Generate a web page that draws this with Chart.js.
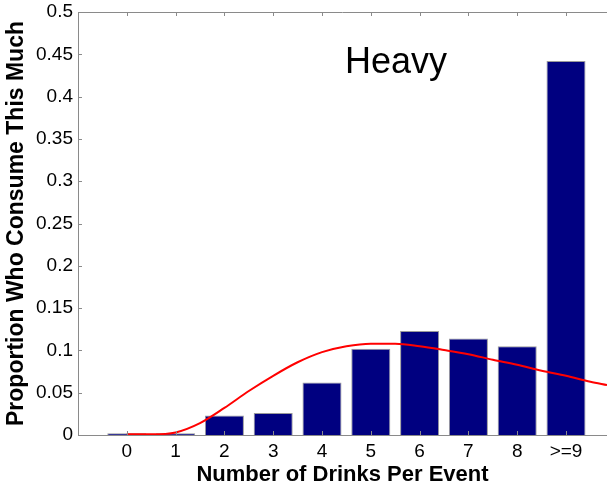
<!DOCTYPE html>
<html>
<head>
<meta charset="utf-8">
<script src="https://cdn.jsdelivr.net/npm/chart.js@4.4.0/dist/chart.umd.min.js"></script>
<style>
  html, body { margin: 0; padding: 0; background: #fff; overflow: hidden; }
  canvas { display: block; }
</style>
</head>
<body>
<canvas id="chart" width="607" height="484"></canvas>
<script>
// number of drinks per event and the share of heavy drinkers at each
const categories = ['0', '1', '2', '3', '4', '5', '6', '7', '8', '>=9'];
const proportions = [0.002, 0.002, 0.023, 0.026, 0.062, 0.102, 0.123, 0.114, 0.105, 0.442];

// fitted curve (x in category units)
const fitX = [0, 0.5, 1, 1.5, 2, 2.5, 3, 3.5, 4, 4.5, 5, 5.5, 6, 6.5, 7, 7.5, 8, 8.5, 9, 9.5, 9.84];
const fitY = [0.001, 0.0008, 0.003, 0.014, 0.032, 0.052, 0.07, 0.086, 0.098, 0.105, 0.108, 0.108,
              0.105, 0.1005, 0.0955, 0.089, 0.083, 0.076, 0.07, 0.063, 0.059];

const yTickValues = [0, 0.05, 0.1, 0.15, 0.2, 0.25, 0.3, 0.35, 0.4, 0.45, 0.5];
const yTickLabels = ['0', '0.05', '0.1', '0.15', '0.2', '0.25', '0.3', '0.35', '0.4', '0.45', '0.5'];

const panelLabel = 'Heavy';
const FONT = '"Liberation Sans", Arial, sans-serif';
const axisGrey = '#8a8a8a';

// matlab style frame: top line and ticks pointing into the plot
const frame = {
  id: 'frame',
  afterDraw(chart) {
    const { ctx, chartArea: a, scales: { x, y } } = chart;
    ctx.save();
    ctx.strokeStyle = axisGrey;
    ctx.lineWidth = 1;
    ctx.beginPath();
    ctx.moveTo(a.left, a.top + 0.5);
    ctx.lineTo(a.right, a.top + 0.5);
    y.ticks.forEach(t => {
      const p = Math.round(y.getPixelForValue(t.value)) + 0.5;
      ctx.moveTo(a.left, p);
      ctx.lineTo(a.left + 4, p);
    });
    x.ticks.forEach(t => {
      const p = Math.round(x.getPixelForValue(t.value)) + 0.5;
      ctx.moveTo(p, a.top);
      ctx.lineTo(p, a.top + 4);
      ctx.moveTo(p, a.bottom);
      ctx.lineTo(p, a.bottom - 4);
    });
    ctx.stroke();

    ctx.fillStyle = '#000';
    ctx.font = '36px ' + FONT;
    ctx.textAlign = 'left';
    ctx.textBaseline = 'alphabetic';
    ctx.fillText(panelLabel, x.getPixelForValue(4.47), y.getPixelForValue(0.428));
    ctx.restore();
  }
};

new Chart(document.getElementById('chart'), {
  type: 'bar',
  data: {
    datasets: [
      {
        type: 'line',
        data: fitX.map((v, i) => ({ x: v, y: fitY[i] })),
        borderColor: '#ff0000',
        borderWidth: 2,
        pointRadius: 0,
        cubicInterpolationMode: 'monotone',
        order: 0
      },
      {
        data: proportions.map((v, i) => ({ x: i, y: v })),
        backgroundColor: '#000080',
        borderColor: '#9a9a9a',
        borderWidth: 1,
        categoryPercentage: 0.8,
        barPercentage: 1,
        order: 1
      }
    ]
  },
  options: {
    responsive: false,
    animation: false,
    layout: { padding: { top: 12, left: 0, right: 0, bottom: 0 } },
    plugins: { legend: { display: false }, tooltip: { enabled: false } },
    scales: {
      x: {
        type: 'linear',
        min: -1,
        max: 9.84,
        offset: false,
        grid: { display: false, drawTicks: false },
        border: { display: true, color: axisGrey, width: 1 },
        afterBuildTicks: scale => { scale.ticks = categories.map((c, i) => ({ value: i })); },
        afterFit: scale => { scale.height = 49; scale.paddingLeft = 0; scale.paddingRight = 0; },
        ticks: {
          autoSkip: false,
          maxRotation: 0,
          padding: 5,
          color: '#000',
          font: { family: FONT, size: 19 },
          callback: v => categories[v]
        },
        title: {
          display: true,
          text: 'Number of Drinks Per Event',
          color: '#000',
          font: { family: FONT, size: 22, weight: 'bold', lineHeight: 1.2 },
          padding: { top: 0, bottom: -4 }
        }
      },
      y: {
        min: 0,
        max: 0.5,
        grid: { display: false, drawTicks: false },
        border: { display: true, color: axisGrey, width: 1 },
        afterBuildTicks: scale => { scale.ticks = yTickValues.map(v => ({ value: v })); },
        afterFit: scale => { scale.width = 78; scale.paddingTop = 0; scale.paddingBottom = 0; },
        ticks: {
          padding: 5,
          color: '#000',
          font: { family: FONT, size: 19 },
          callback: (v, i) => yTickLabels[i]
        },
        title: {
          display: true,
          text: 'Proportion Who Consume This Much',
          color: '#000',
          font: { family: FONT, size: 23, weight: 'bold', lineHeight: 1.2 },
          padding: { top: 3, bottom: 0 }
        }
      }
    }
  },
  plugins: [frame]
});
</script>
</body>
</html>
